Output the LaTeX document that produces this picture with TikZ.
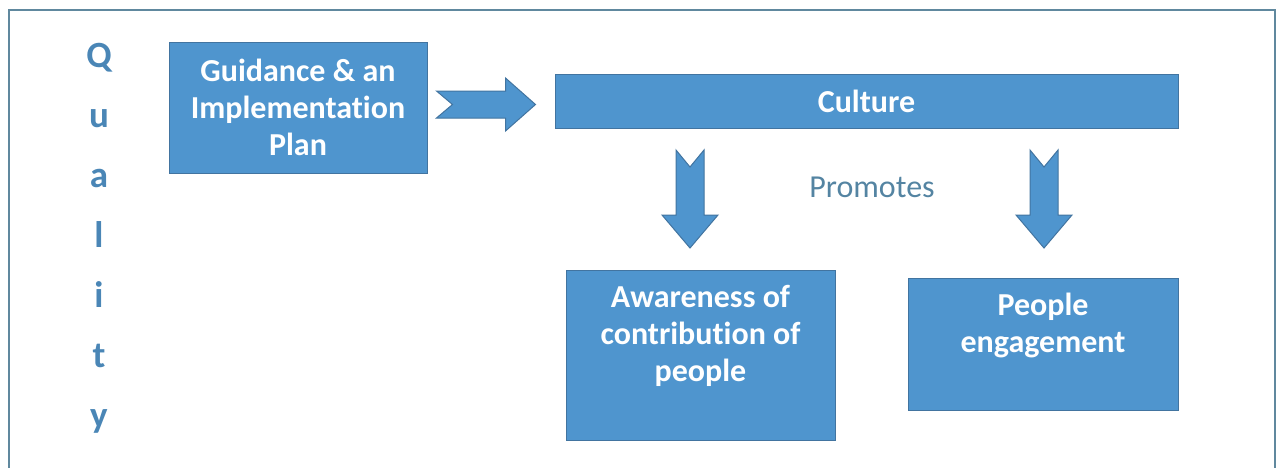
\documentclass[tikz,border=0pt]{standalone}
\usepackage{fontspec}
\setmainfont{Carlito}[Ligatures=NoCommon]
\usetikzlibrary{calc}

\definecolor{boxblue}{RGB}{79,149,206}
\definecolor{boxedge}{RGB}{66,116,160}
\definecolor{letterblue}{RGB}{74,134,182}
\definecolor{promoblue}{RGB}{84,132,162}
\definecolor{framegray}{RGB}{96,136,158}

\tikzset{
  bluebox/.style={draw=boxedge, fill=boxblue, line width=0.5pt, inner sep=0pt},
  boxtext/.style={text=white, font=\bfseries\fontsize{16}{18.5}\selectfont, align=center},
  blockarrow/.style={draw=boxedge, fill=boxblue, line width=0.5pt, line join=miter},
  letter/.style={text=letterblue, font=\bfseries\fontsize{18.5}{20}\selectfont, anchor=base},
}

% notched block arrow pointing down, #1 = middle of its tail
\newcommand\downblock[1]{%
  \filldraw[blockarrow] (#1) ++(-14,0) -- ++(0,65) -- ++(-14,0) -- ++(28,33)
    -- ++(28,-33) -- ++(-14,0) -- ++(0,-65) -- ++(-14,17) -- cycle;}

\begin{document}
\begin{tikzpicture}[x=0.5pt,y=-0.5pt]
  \useasboundingbox (0,0) rectangle (1279,467);
  \draw[framegray, line width=1pt] (9,475) |- (1275,10) -- (1275,475);

  % the word down the left side
  \foreach \ch [count=\i from 0] in {Q,u,a,l,i,t,y}
    \node[letter] (q\i) at (99,67+60*\i) {\ch};

  \node[bluebox, boxtext, minimum width=129pt, minimum height=65.5pt] (guide)
    at (298,107.5) {Guidance \& an\\Implementation\\Plan};
  \node[bluebox, boxtext, minimum width=311.5pt, minimum height=27pt] (culture)
    at (866.5,101) {Culture};
  \node[bluebox, minimum width=134.5pt, minimum height=85pt,
    label={[boxtext,yshift=9.75pt]center:{Awareness of\\contribution of\\people}}] (aware)
    at (700.5,355) {};
  \node[bluebox, minimum width=135pt, minimum height=66pt,
    label={[boxtext,yshift=9.5pt]center:{People\\engagement}}] (engage)
    at (1043,344) {};
  \node[text=promoblue, font=\fontsize{16}{18}\selectfont] (promo) at (872,187) {Promotes};

  % block arrows
  \coordinate (r1) at ($(guide.east)+(9,-3)$);
  \filldraw[blockarrow] (r1) ++(0,-13.5) -- ++(69,0) -- ++(0,-13) -- ++(30,26.5)
    -- ++(-30,26.5) -- ++(0,-13) -- ++(-69,0) -- ++(16,-13.5) -- cycle;
  \coordinate (d1) at (690,150);
  \coordinate (d2) at (1044,150);
  \downblock{d1}
  \downblock{d2}
\end{tikzpicture}
\end{document}
